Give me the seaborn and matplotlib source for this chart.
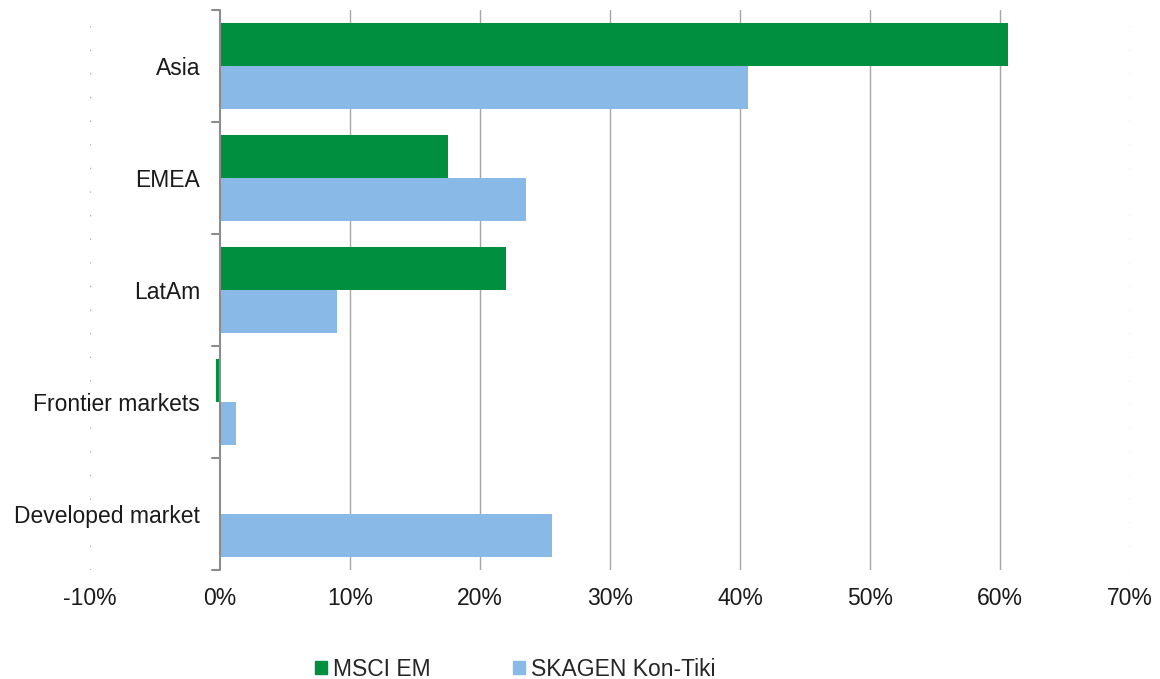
import pandas as pd
import matplotlib.pyplot as plt
import seaborn as sns
from matplotlib.patches import Patch
from matplotlib.ticker import FuncFormatter, MultipleLocator

regions = ["Asia", "EMEA", "LatAm", "Frontier markets", "Developed market"]
msci_em = [60.6, 17.5, 22.0, -0.3, 0.0]
kon_tiki = [40.6, 23.5, 9.0, 1.2, 25.5]
series = ["MSCI EM", "SKAGEN Kon-Tiki"]
colors = ["#008F3E", "#89B9E7"]

df = pd.DataFrame({
    "region": regions * 2,
    "value": msci_em + kon_tiki,
    "series": [series[0]] * len(regions) + [series[1]] * len(regions),
})

sns.set_style("white")
plt.rcParams["font.family"] = ["Liberation Sans", "DejaVu Sans"]
fs = 16.5

fig = plt.figure(figsize=(11.6, 6.79), dpi=100)
ax = fig.add_axes([0.0776, 0.1605, 0.8966, 0.8248])

sns.barplot(data=df, y="region", x="value", hue="series", orient="h",
            palette=colors, width=0.77, order=regions, hue_order=series,
            saturation=1, linewidth=0, ax=ax, legend=False)

ax.set_xlim(-10, 70)
ax.set_ylim(4.5, -0.5)
ax.xaxis.set_major_locator(MultipleLocator(10))
ax.xaxis.set_major_formatter(FuncFormatter(lambda v, p: f"{v:.0f}%"))
ax.tick_params(axis="x", length=0, labelsize=fs, pad=12, colors="#1a1a1a")

# vertical gridlines
for v in range(10, 70, 10):
    ax.axvline(v, color="#A6A6A6", lw=1, zorder=0)
for v in (-10, 70):
    ax.axvline(v, color="#B0B0B0", lw=1, ls=(0, (1, 16)), zorder=0)

# category axis at 0
for s in ax.spines.values():
    s.set_visible(False)
ax.axvline(0, color="#8C8C8C", lw=1.5, zorder=3)
ax.set_yticks(range(len(regions)))
ax.set_yticklabels(regions)
ax.tick_params(axis="y", length=0, labelsize=fs, colors="#1a1a1a")
for lab in ax.get_yticklabels():
    lab.set_x(0.1058)
    lab.set_transform(ax.get_yaxis_transform())
    lab.set_horizontalalignment("right")
for b in [i - 0.5 for i in range(len(regions) + 1)]:
    ax.plot([-0.6, 0], [b, b], color="#8C8C8C", lw=1.5, clip_on=False, zorder=3)

ax.set_xlabel("")
ax.set_ylabel("")

handles = [Patch(color=c, label=s) for c, s in zip(colors, series)]
fig.legend(handles=handles, loc="center left",
           bbox_to_anchor=(315 / 1160, 1 - 669 / 679),
           ncol=2, frameon=False, fontsize=fs, handlelength=0.52,
           handleheight=0.52, handletextpad=0.26, columnspacing=3.6,
           borderpad=0, borderaxespad=0)

fig.savefig("out.png", dpi=100)
